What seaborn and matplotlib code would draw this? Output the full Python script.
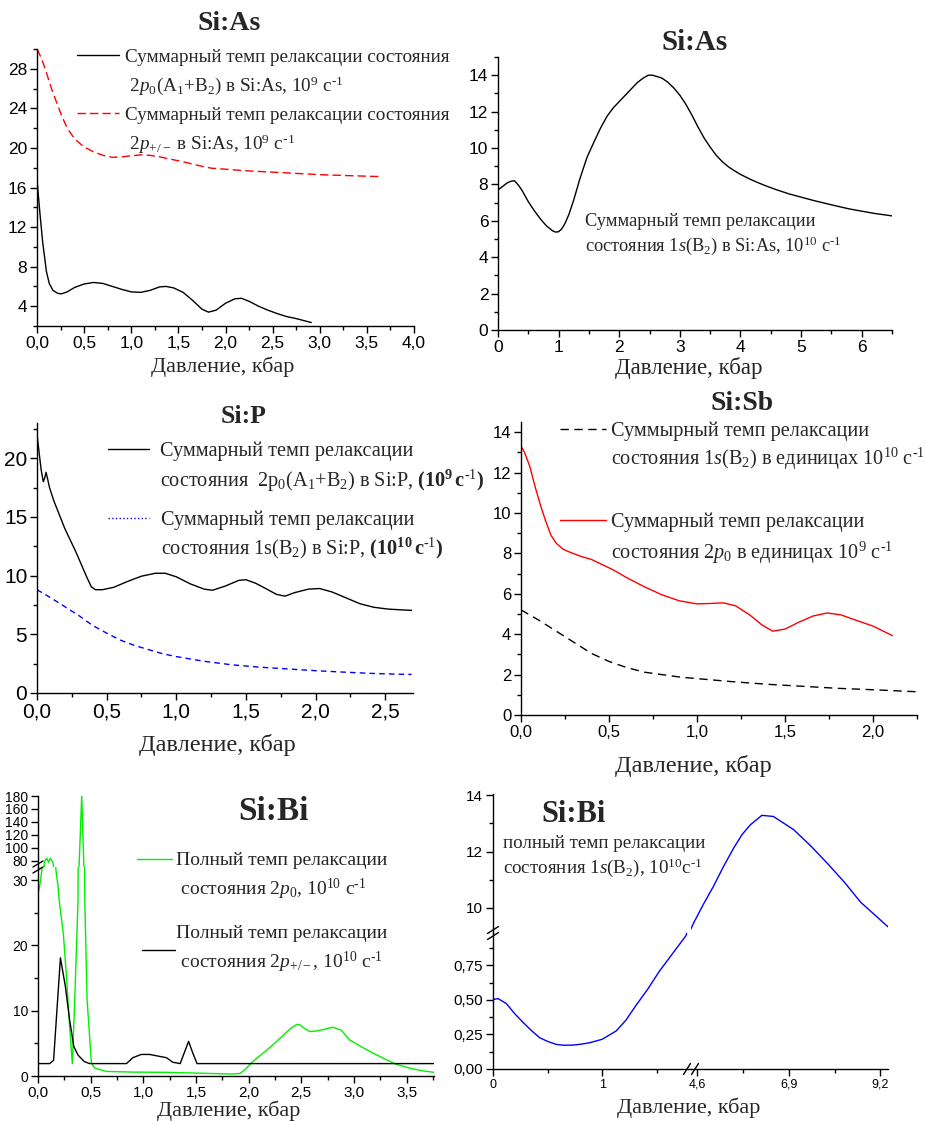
import matplotlib
matplotlib.use("Agg")
import matplotlib.pyplot as plt
import seaborn as sns
from matplotlib.lines import Line2D
from matplotlib.legend import Legend
from matplotlib.ticker import MultipleLocator, AutoMinorLocator, FuncFormatter, FixedLocator

# ---- Si:As, 2p states (10^9 c^-1) ----
as2p0_x = [0.0, 0.03, 0.06, 0.10, 0.13, 0.17, 0.22, 0.26, 0.32, 0.40, 0.50, 0.60, 0.70, 0.80,
           0.90, 1.00, 1.10, 1.20, 1.30, 1.37, 1.45, 1.55, 1.65, 1.75, 1.82, 1.90, 2.00, 2.10,
           2.17, 2.25, 2.35, 2.45, 2.55, 2.65, 2.75, 2.85, 2.91]
as2p0_y = [16.8, 13.5, 10.5, 7.5, 6.3, 5.6, 5.3, 5.25, 5.45, 5.9, 6.25, 6.4, 6.3, 6.0,
           5.7, 5.45, 5.4, 5.6, 5.95, 6.0, 5.85, 5.4, 4.6, 3.7, 3.4, 3.6, 4.3, 4.75,
           4.8, 4.5, 4.0, 3.6, 3.25, 2.95, 2.75, 2.5, 2.35]
as2pm_x = [0.0, 0.05, 0.10, 0.15, 0.20, 0.26, 0.32, 0.40, 0.50, 0.60, 0.70, 0.80, 0.90, 1.00,
           1.10, 1.20, 1.30, 1.40, 1.55, 1.70, 1.85, 2.00, 2.20, 2.40, 2.70, 3.00, 3.30, 3.65]
as2pm_y = [30.0, 29.0, 27.6, 26.1, 24.8, 23.3, 22.0, 20.9, 20.1, 19.6, 19.25, 19.05, 19.1, 19.2,
           19.3, 19.25, 19.1, 18.9, 18.6, 18.25, 17.95, 17.85, 17.7, 17.6, 17.45, 17.3, 17.2, 17.1]

# ---- Si:As, 1s(B2) (10^10 c^-1) ----
as1s_x = [0.0, 0.05, 0.10, 0.15, 0.22, 0.27, 0.30, 0.35, 0.40, 0.45, 0.50, 0.60, 0.70, 0.80,
          0.90, 0.95, 1.00, 1.05, 1.10, 1.17, 1.25, 1.35, 1.47, 1.60, 1.70, 1.80, 1.90, 2.00,
          2.10, 2.20, 2.30, 2.40, 2.48, 2.55, 2.70, 2.80, 2.90, 3.00, 3.10, 3.20, 3.30, 3.40,
          3.50, 3.60, 3.70, 3.80, 3.90, 4.00, 4.15, 4.30, 4.45, 4.60, 4.80, 5.00, 5.20, 5.40,
          5.60, 5.80, 6.00, 6.20, 6.50]
as1s_y = [7.7, 7.82, 7.95, 8.08, 8.18, 8.2, 8.1, 7.9, 7.65, 7.35, 7.05, 6.55, 6.1, 5.72,
          5.45, 5.38, 5.4, 5.55, 5.82, 6.35, 7.15, 8.3, 9.5, 10.45, 11.15, 11.75, 12.2, 12.55,
          12.9, 13.25, 13.6, 13.85, 14.0, 14.0, 13.85, 13.62, 13.3, 12.9, 12.4, 11.8, 11.15,
          10.55, 10.05, 9.6, 9.25, 8.97, 8.75, 8.55, 8.3, 8.08, 7.88, 7.7, 7.48, 7.3, 7.12,
          6.96, 6.8, 6.65, 6.53, 6.41, 6.27]

# ---- Si:P ----
p2p0_x = [0.0, 0.015, 0.03, 0.045, 0.055, 0.065, 0.075, 0.09, 0.12, 0.16, 0.20, 0.24, 0.28,
          0.32, 0.36, 0.39, 0.42, 0.47, 0.55, 0.65, 0.75, 0.85, 0.92, 1.00, 1.10, 1.20, 1.26,
          1.35, 1.45, 1.50, 1.57, 1.65, 1.72, 1.78, 1.85, 1.95, 2.03, 2.12, 2.22, 2.32, 2.42,
          2.52, 2.62, 2.69]
p2p0_y = [22.0, 20.5, 19.0, 18.0, 18.3, 18.8, 18.3, 17.5, 16.4, 15.2, 14.0, 13.0, 12.0,
          10.9, 9.8, 9.05, 8.8, 8.8, 9.0, 9.5, 9.95, 10.2, 10.2, 9.9, 9.3, 8.85, 8.75,
          9.1, 9.6, 9.65, 9.35, 8.85, 8.4, 8.25, 8.55, 8.85, 8.9, 8.6, 8.1, 7.6, 7.3,
          7.15, 7.08, 7.04]
p1s_x = [0.0, 0.1, 0.2, 0.3, 0.4, 0.5, 0.6, 0.7, 0.8, 0.9, 1.0, 1.1, 1.2, 1.3, 1.4, 1.5,
         1.6, 1.8, 2.0, 2.2, 2.4, 2.6, 2.69]
p1s_y = [8.8, 8.1, 7.35, 6.6, 5.75, 5.1, 4.5, 4.05, 3.7, 3.35, 3.1, 2.9, 2.7, 2.55, 2.4, 2.3,
         2.2, 2.05, 1.9, 1.78, 1.67, 1.6, 1.58]

# ---- Si:Sb ----
sb2p0_x = [0.0, 0.02, 0.05, 0.08, 0.11, 0.14, 0.17, 0.20, 0.24, 0.28, 0.34, 0.40, 0.46, 0.52,
           0.60, 0.70, 0.80, 0.90, 1.00, 1.08, 1.15, 1.22, 1.30, 1.37, 1.43, 1.50, 1.58, 1.66,
           1.74, 1.82, 1.90, 2.00, 2.11]
sb2p0_y = [13.3, 13.0, 12.3, 11.3, 10.4, 9.6, 8.9, 8.5, 8.2, 8.05, 7.85, 7.7, 7.45, 7.2,
           6.8, 6.35, 5.95, 5.65, 5.5, 5.52, 5.55, 5.4, 4.95, 4.45, 4.15, 4.25, 4.6, 4.9,
           5.05, 4.95, 4.7, 4.4, 3.93]
sb1s_x = [0.0, 0.1, 0.2, 0.3, 0.4, 0.5, 0.6, 0.7, 0.8, 0.9, 1.0, 1.2, 1.4, 1.6, 1.8, 2.0, 2.25]
sb1s_y = [5.2, 4.7, 4.15, 3.6, 3.05, 2.65, 2.35, 2.12, 2.0, 1.88, 1.8, 1.65, 1.52, 1.42,
          1.32, 1.25, 1.15]

# ---- Si:Bi, 2p states (10^10 c^-1) ----
bi2p0_x = [0.0, 0.02, 0.045, 0.06, 0.067, 0.083, 0.10, 0.117, 0.14, 0.16, 0.17, 0.19, 0.20,
           0.24, 0.27, 0.30, 0.326, 0.349, 0.37, 0.38, 0.415, 0.444, 0.466, 0.507, 0.539,
           0.65, 0.90, 1.22, 1.60, 1.85, 1.92, 1.96, 2.04, 2.23, 2.40, 2.45, 2.48, 2.53, 2.58,
           2.65, 2.80, 2.88, 2.96, 3.10, 3.28, 3.40, 3.53, 3.65, 3.76]
bi2p0_y = [27.8, 29.5, 32.5, 76.0, 80.0, 83.6, 77.4, 83.6, 77.4, 62.0, 31.5, 29.1, 27.0,
           21.9, 15.3, 7.6, 1.9, 11.7, 21.9, 27.0, 180.0, 27.0, 11.7, 2.0, 1.2,
           0.7, 0.6, 0.56, 0.4, 0.3, 0.4, 0.92, 2.2, 4.76, 7.3, 7.83, 7.9, 7.3, 6.8,
           6.9, 7.47, 7.0, 5.5, 4.2, 2.7, 1.8, 1.2, 0.8, 0.56]
bi2pm_x = [0.0, 0.111, 0.148, 0.213, 0.26, 0.30, 0.34, 0.38, 0.44, 0.49, 0.84, 0.90, 0.98,
           1.06, 1.22, 1.28, 1.35, 1.43, 1.47, 1.51, 3.76]
bi2pm_y = [1.9, 1.9, 2.4, 18.1, 13.7, 8.6, 4.5, 3.2, 2.2, 1.9, 1.9, 2.8, 3.3,
           3.3, 2.8, 2.1, 1.9, 5.3, 3.5, 1.9, 1.9]

# ---- Si:Bi, 1s(B2) (10^10 c^-1) ----
bi1s_x = [0.0, 0.046, 0.122, 0.20, 0.275, 0.35, 0.427, 0.50, 0.58, 0.65, 0.73, 0.81, 0.885,
          1.0, 1.13, 1.22, 1.31, 1.42, 1.525, 1.65, 1.77,
          4.5, 4.75, 5.0, 5.25, 5.51, 5.72, 5.93, 6.22, 6.51, 7.02, 7.45, 7.86, 8.3, 8.7, 9.39]
bi1s_y = [0.503, 0.51, 0.474, 0.40, 0.338, 0.28, 0.227, 0.20, 0.178, 0.172, 0.173, 0.18, 0.19,
          0.215, 0.276, 0.355, 0.46, 0.58, 0.708, 0.84, 0.967,
          9.44, 10.12, 10.75, 11.45, 12.12, 12.6, 12.95, 13.29, 13.25, 12.78, 12.2, 11.59, 10.9,
          10.2, 9.32]
bi1s_xticks_low = [0, 1]
bi1s_xlabels_low = ["0", "1"]
bi1s_xticks_high = [4.6, 6.9, 9.2]
bi1s_xlabels_high = ["4,6", "6,9", "9,2"]

XLABEL = "Давление, кбар"
INV = r"$^{\text{-1}}$"

W, H = 926, 1122
SERIF = ["Liberation Serif", "DejaVu Serif"]

sns.set_style("ticks")
plt.rcParams["font.family"] = ["Liberation Sans", "DejaVu Sans"]
plt.rcParams["mathtext.fontset"] = "custom"
plt.rcParams["mathtext.rm"] = "Liberation Serif"
plt.rcParams["mathtext.it"] = "Liberation Serif:italic"
plt.rcParams["mathtext.bf"] = "Liberation Serif:bold"
plt.rcParams["axes.linewidth"] = 1.0

fig = plt.figure(figsize=(W / 100, H / 100), dpi=100)


def box(x0, y0, x1, y1):
    return [x0 / W, 1 - y1 / H, (x1 - x0) / W, (y1 - y0) / H]


def fx(x):
    return x / W


def fy(y):
    return 1 - y / H


def comma(nd):
    return FuncFormatter(lambda v, p: f"{v:.{nd}f}".replace(".", ","))


def setup(ax, fs, left=True, bottom=True):
    for s in ["top", "right"]:
        ax.spines[s].set_visible(False)
    ax.spines["left"].set_visible(left)
    ax.spines["bottom"].set_visible(bottom)
    for s in ["left", "bottom"]:
        ax.spines[s].set_color("black")
    ax.tick_params(which="both", direction="out", color="black", width=1.0,
                   labelsize=fs, labelcolor="black", pad=2,
                   left=left, labelleft=left, bottom=bottom, labelbottom=bottom,
                   top=False, right=False)
    ax.tick_params(which="major", length=5)
    ax.tick_params(which="minor", length=3)
    ax.set_facecolor("none")
    ax.set_xlabel("")
    ax.set_ylabel("")


def line(ax, x, y, color, ls="-"):
    sns.lineplot(x=x, y=y, ax=ax, color=color, linewidth=1.0, linestyle=ls,
                 estimator=None, legend=False)
    ax.set_xlabel("")
    ax.set_ylabel("")


def entry(ax, handle, labels, x, ymid, fs, hl, pad, spacing):
    handles = [handle] + [Line2D([], [], color="none")] * (len(labels) - 1)
    leg = Legend(ax, handles, labels, loc="center left",
                 bbox_to_anchor=(fx(x), fy(ymid)), bbox_transform=fig.transFigure,
                 frameon=False, prop={"family": SERIF, "size": fs},
                 handlelength=hl, handletextpad=pad, labelspacing=spacing,
                 borderpad=0, borderaxespad=0)
    ax.add_artist(leg)
    return leg


def ftext(x, y, s, fs, bold=False, ha="center", ls=1.2):
    fig.text(fx(x), fy(y), s, ha=ha, va="center", fontsize=fs,
             family=SERIF, fontweight="bold" if bold else "normal", linespacing=ls)


def brk(x, y, w, h, dx, dy):
    for k in (-1, 1):
        fig.add_artist(Line2D([fx(x - w / 2 + k * dx), fx(x + w / 2 + k * dx)],
                              [fy(y + h / 2 + k * dy), fy(y - h / 2 + k * dy)],
                              transform=fig.transFigure, color="black", lw=1.0))


# ================= Panel 1: Si:As =================
ax1 = fig.add_axes(box(37, 49, 414, 326))
line(ax1, as2p0_x, as2p0_y, "black")
line(ax1, as2pm_x, as2pm_y, "red", (0, (6, 3)))
ax1.set_xlim(0, 4.0)
ax1.set_ylim(2, 30)
ax1.xaxis.set_major_locator(MultipleLocator(0.5))
ax1.yaxis.set_major_locator(MultipleLocator(4))
ax1.xaxis.set_minor_locator(AutoMinorLocator(2))
ax1.yaxis.set_minor_locator(AutoMinorLocator(2))
ax1.xaxis.set_major_formatter(comma(1))
setup(ax1, 12.5)
entry(ax1, Line2D([], [], color="black", lw=1.0),
      ["Суммарный темп релаксации состояния",
       " 2$p_0$(A$_1$+B$_2$) в Si:As, 10$^9$ с" + INV],
      77, 72.5, 13.8, 2.2, 0.32, 0.45)
entry(ax1, Line2D([], [], color="red", lw=1.0, ls=(0, (6, 3))),
      ["Суммарный темп релаксации состояния",
       " 2$p_{+/-}$ в Si:As, 10$^9$ с" + INV],
      77, 131, 13.8, 2.2, 0.32, 0.45)
ftext(229, 23, "Si:As", 20, bold=True)
ftext(223, 367, XLABEL, 16)

# ================= Panel 2: Si:As 1s =================
ax2 = fig.add_axes(box(498, 57, 892, 330))
line(ax2, as1s_x, as1s_y, "black")
ax2.set_xlim(0, 6.5)
ax2.set_ylim(0, 15)
ax2.xaxis.set_major_locator(MultipleLocator(1))
ax2.yaxis.set_major_locator(MultipleLocator(2))
ax2.xaxis.set_minor_locator(AutoMinorLocator(2))
ax2.yaxis.set_minor_locator(AutoMinorLocator(2))
setup(ax2, 12.5)
ftext(585, 235, "Суммарный темп релаксации\nсостояния 1$s$(B$_2$) в Si:As, 10$^{10}$ с" + INV,
      13.2, ha="left", ls=1.25)
ftext(695, 42, "Si:As", 21, bold=True)
ftext(689, 368, XLABEL, 16.5)

# ================= Panel 3: Si:P =================
ax3 = fig.add_axes(box(37, 423, 413, 693))
line(ax3, p2p0_x, p2p0_y, "black")
line(ax3, p1s_x, p1s_y, "blue", (0, (4, 3)))
ax3.set_xlim(0, 2.7)
ax3.set_ylim(0, 23)
ax3.xaxis.set_major_locator(MultipleLocator(0.5))
ax3.yaxis.set_major_locator(MultipleLocator(5))
ax3.xaxis.set_minor_locator(AutoMinorLocator(2))
ax3.yaxis.set_minor_locator(AutoMinorLocator(2))
ax3.xaxis.set_major_formatter(comma(1))
setup(ax3, 15)
entry(ax3, Line2D([], [], color="black", lw=1.0),
      ["Суммарный темп релаксации",
       r"состояния  2p$_0$(A$_1$+B$_2$) в Si:P, $\mathbf{(10^{9}}$$\mathbf{\,c^{\text{-1}})}$"],
      108, 468, 14.6, 2.0, 0.57, 0.36)
entry(ax3, Line2D([], [], color="blue", lw=1.0, ls=":"),
      ["Суммарный темп релаксации",
       r"состояния 1s(B$_2$) в Si:P, $\mathbf{(10^{10}}$$\mathbf{\,c^{\text{-1}})}$"],
      108, 536, 14.6, 2.0, 0.62, 0.26)
ftext(244, 417, "Si:P", 18.5, bold=True)
ftext(217, 745, XLABEL, 17.5)

# ================= Panel 4: Si:Sb =================
ax4 = fig.add_axes(box(521, 422, 917, 715))
line(ax4, sb1s_x, sb1s_y, "black", (0, (6, 4)))
line(ax4, sb2p0_x, sb2p0_y, "red")
ax4.set_xlim(0, 2.25)
ax4.set_ylim(0, 14.5)
ax4.xaxis.set_major_locator(MultipleLocator(0.5))
ax4.yaxis.set_major_locator(MultipleLocator(2))
ax4.xaxis.set_minor_locator(AutoMinorLocator(2))
ax4.yaxis.set_minor_locator(AutoMinorLocator(2))
ax4.xaxis.set_major_formatter(comma(1))
setup(ax4, 12)
entry(ax4, Line2D([], [], color="black", lw=1.0, ls=(0, (6, 4))),
      ["Суммырный темп релаксации",
       "состояния 1$s$(B$_2$) в единицах 10$^{10}$ с" + INV],
      560, 447, 14.6, 2.25, 0.28, 0.25)
entry(ax4, Line2D([], [], color="red", lw=1.0),
      ["Суммарный темп релаксации",
       "состояния 2$p_0$ в единицах 10$^9$ с" + INV],
      560, 539, 14.6, 2.25, 0.28, 0.38)
ftext(742, 403, "Si:Sb", 20, bold=True)
ftext(693, 766, XLABEL, 17.5)

# ================= Panel 5: Si:Bi (broken y) =================
GREEN = "#00f000"
ax5t = fig.add_axes(box(38, 796, 434, 867))
ax5b = fig.add_axes(box(38, 867, 434, 1076))
for ax in (ax5t, ax5b):
    line(ax, bi2p0_x, bi2p0_y, GREEN)
    line(ax, bi2pm_x, bi2pm_y, "black")
    ax.set_xlim(0, 3.76)
ax5t.set_ylim(70, 180)
ax5b.set_ylim(0, 32)
ax5t.yaxis.set_major_locator(MultipleLocator(20))
ax5b.yaxis.set_major_locator(MultipleLocator(10))
ax5b.yaxis.set_minor_locator(AutoMinorLocator(2))
ax5b.xaxis.set_major_locator(MultipleLocator(0.5))
ax5b.xaxis.set_minor_locator(AutoMinorLocator(2))
ax5b.xaxis.set_major_formatter(comma(1))
setup(ax5t, 10, bottom=False)
setup(ax5b, 10)
ax5b.tick_params(axis="x", labelsize=11)
entry(ax5b, Line2D([], [], color=GREEN, lw=1.0),
      ["Полный темп релаксации", " состояния 2$p_0$, 10$^{10}$ с" + INV],
      137, 877, 14, 1.8, 0.2, 0.4)
leg5 = entry(ax5b, Line2D([], [], color="black", lw=1.0),
             ["Полный темп релаксации\n состояния 2$p_{+/-}$, 10$^{10}$ с" + INV],
             142, 950, 14, 1.7, 0.05, 0.3)
for t in leg5.get_texts():
    t.set_linespacing(1.4)
brk(38, 867, 10, 6, 0, 3)
ftext(273, 812, "Si:Bi", 24, bold=True)
ftext(229, 1111, XLABEL, 16)

# ================= Panel 6: Si:Bi 1s (broken x and y) =================
XB, YB = 691, 933
ax6tl = fig.add_axes(box(493, 794, XB, YB))
ax6tr = fig.add_axes(box(XB, 794, 888, YB))
ax6bl = fig.add_axes(box(493, YB, XB, 1069))
ax6br = fig.add_axes(box(XB, YB, 888, 1069))
for ax in (ax6bl, ax6tr):
    line(ax, bi1s_x, bi1s_y, "blue")
for ax in (ax6tl, ax6bl):
    ax.set_xlim(0, 1.815)
for ax in (ax6tr, ax6br):
    ax.set_xlim(4.44, 9.39)
for ax in (ax6tl, ax6tr):
    ax.set_ylim(9.1, 14.05)
for ax in (ax6bl, ax6br):
    ax.set_ylim(0, 0.985)
ax6tl.yaxis.set_major_locator(MultipleLocator(2))
ax6tl.yaxis.set_minor_locator(AutoMinorLocator(2))
ax6bl.yaxis.set_major_locator(MultipleLocator(0.25))
ax6bl.yaxis.set_minor_locator(AutoMinorLocator(2))
ax6bl.yaxis.set_major_formatter(comma(2))
ax6bl.xaxis.set_major_locator(FixedLocator(bi1s_xticks_low))
ax6bl.set_xticklabels(bi1s_xlabels_low)
ax6bl.xaxis.set_minor_locator(FixedLocator([0.5, 1.5]))
ax6br.xaxis.set_major_locator(FixedLocator(bi1s_xticks_high))
ax6br.set_xticklabels(bi1s_xlabels_high)
ax6br.xaxis.set_minor_locator(FixedLocator([5.75, 8.05]))
setup(ax6tl, 11, bottom=False)
setup(ax6bl, 11)
ax6bl.tick_params(axis="x", labelsize=9)
setup(ax6br, 9, left=False)
ax6tr.axis("off")
brk(493, YB, 11, 7, 0, 3)
brk(691, 1069, 7, 11, 4, 0)
ftext(574, 815, "Si:Bi", 22, bold=True)
ftext(503, 857, "полный темп релаксации\nсостояния 1$s$(B$_2$), 10$^{10}$с" + INV,
      13.7, ha="left", ls=1.3)
ftext(689, 1108, XLABEL, 16)

fig.savefig("out.png", dpi=100)
